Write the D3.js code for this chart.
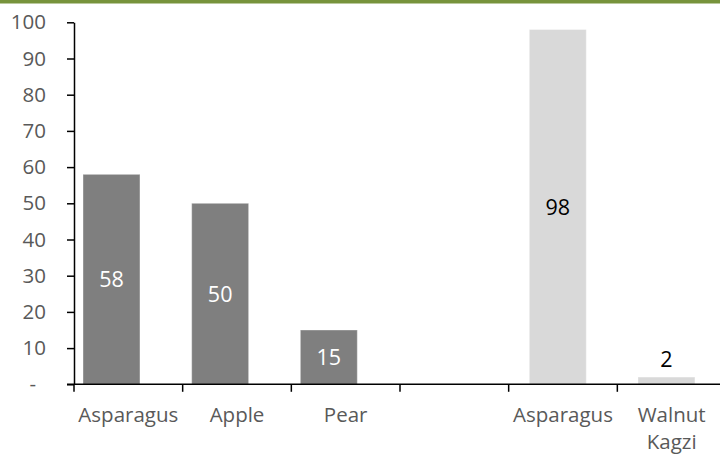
<!DOCTYPE html>
<html>
<head>
<meta charset="utf-8">
<script src="https://cdn.jsdelivr.net/npm/d3@7"></script>
<style>
  html, body { margin: 0; padding: 0; background: #fff; }
  svg { display: block; }
  text { font-family: "Open Sans", sans-serif; }
</style>
</head>
<body>
<div id="chart"></div>
<script>
// ---- data ----
const categories = ["Asparagus", "Apple", "Pear", "", "Asparagus", "Walnut Kagzi"];
const seriesDark = [58, 50, 15, null, null, null];
const seriesLight = [null, null, null, null, 98, 2];
const yTickValues = [0, 10, 20, 30, 40, 50, 60, 70, 80, 90, 100];

// ---- layout ----
const W = 720, H = 455;
const plot = { left: 74, right: 726, top: 22.3, bottom: 384.3 };

const svg = d3.select("#chart").append("svg")
  .attr("width", W).attr("height", H);

// top olive border
svg.append("rect").attr("x", 0).attr("y", 0).attr("width", W).attr("height", 3.5)
  .attr("fill", "#77933c");

const idx = categories.map((c, i) => i);
const x = d3.scaleBand().domain(idx).range([plot.left, plot.right]).padding(0);
const y = d3.scaleLinear().domain([0, 100]).range([plot.bottom, plot.top]);

const bw = x.bandwidth();
const barW = bw * 0.524;
const series = [
  { values: seriesDark, fill: "#7f7f7f", label: "#ffffff", offset: 0.083 },
  { values: seriesLight, fill: "#d9d9d9", label: "#000000", offset: 0.19 }
];

// bars
series.forEach(s => {
  const data = s.values.map((v, i) => ({ v, i })).filter(d => d.v != null);
  svg.append("g").selectAll("rect").data(data).join("rect")
    .attr("x", d => x(d.i) + bw * s.offset)
    .attr("y", d => y(d.v))
    .attr("width", barW)
    .attr("height", d => y(0) - y(d.v))
    .attr("fill", s.fill)
    .attr("stroke", "#ffffff").attr("stroke-opacity", 0.35).attr("stroke-width", 1);

  svg.append("g").selectAll("text").data(data).join("text")
    .attr("x", d => x(d.i) + bw * s.offset + barW / 2)
    .attr("y", d => {
      const h = y(0) - y(d.v);
      return h > 30 ? (y(d.v) + y(0)) / 2 : y(d.v) - 18;
    })
    .attr("dy", "0.36em")
    .attr("text-anchor", "middle")
    .attr("font-size", 21.5)
    .attr("fill", d => (y(0) - y(d.v)) > 30 ? s.label : "#000000")
    .text(d => d.v);
});

// y axis
const yAxis = d3.axisLeft(y).tickValues(yTickValues).tickSize(7).tickSizeOuter(0)
  .tickFormat(d => d === 0 ? "-" : d);
const gy = svg.append("g").attr("transform", `translate(${plot.left},0)`).call(yAxis);
gy.select(".domain").attr("stroke", "#000").attr("stroke-width", 1.5);
gy.selectAll(".tick line").attr("stroke", "#000").attr("stroke-width", 1.5);
gy.selectAll(".tick text")
  .attr("x", d => d === 0 ? -38 : -28)
  .attr("font-size", 20.5)
  .attr("fill", "#595959")
  .attr("font-family", "Open Sans, sans-serif");

// x axis line and boundary ticks
const gx = svg.append("g");
gx.append("line")
  .attr("x1", plot.left - 7).attr("x2", W)
  .attr("y1", y(0)).attr("y2", y(0))
  .attr("stroke", "#000").attr("stroke-width", 1.5);
const bounds = idx.map(i => x(i)).concat([x.range()[1]]);
gx.selectAll("line.tk").data(bounds).join("line").attr("class", "tk")
  .attr("x1", d => d).attr("x2", d => d)
  .attr("y1", y(0)).attr("y2", y(0) + 7.5)
  .attr("stroke", "#000").attr("stroke-width", 1.5);

// x labels
const xl = gx.selectAll("text.xl").data(idx).join("text").attr("class", "xl")
  .attr("x", i => x(i) + bw / 2)
  .attr("y", 422)
  .attr("text-anchor", "middle")
  .attr("font-size", 20.5)
  .attr("fill", "#595959");
xl.each(function(i) {
  const words = categories[i].split(" ");
  const t = d3.select(this);
  words.forEach((w, k) => {
    t.append("tspan").attr("x", x(i) + bw / 2).attr("dy", k === 0 ? 0 : 27).text(w);
  });
});
</script>
</body>
</html>
